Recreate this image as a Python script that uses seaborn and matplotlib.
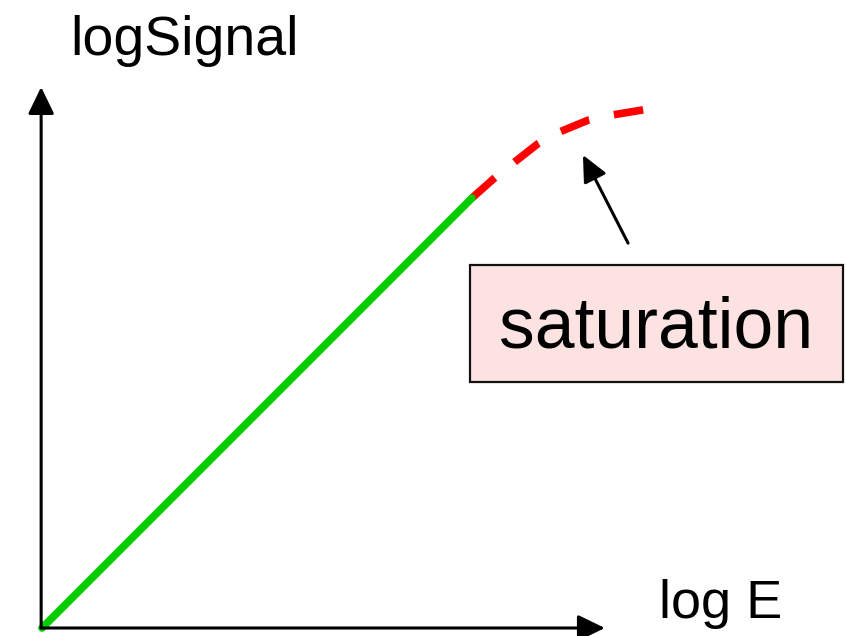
import numpy as np
import pandas as pd
import matplotlib.pyplot as plt
import seaborn as sns
from matplotlib.patches import Rectangle

# schematic response curve (arbitrary log units)
linear_logE = [0.0, 10.0]
linear_logS = [0.0, 10.0]

sat_logE = [10.0, 10.53, 10.93, 11.53, 12.02, 12.70, 13.26, 13.98]
sat_logS = [10.0, 10.47, 10.79, 11.26, 11.53, 11.81, 11.93, 12.05]

x_label = "log E"
y_label = "logSignal"
note = "saturation"

sns.set_style("white")
plt.rcParams['font.family'] = ['Liberation Sans', 'DejaVu Sans']
plt.rcParams['text.color'] = 'black'

fig = plt.figure(figsize=(8.46, 6.36), dpi=100)
ax = fig.add_axes([0, 0, 1, 1])
ax.set_xlim(-42 / 43, 804 / 43)
ax.set_ylim(-8 / 43, 628 / 43)
ax.axis("off")

lin = pd.DataFrame({"logE": linear_logE, "logS": linear_logS})
sat = pd.DataFrame({"logE": sat_logE, "logS": sat_logS})

sns.lineplot(data=lin, x="logE", y="logS", color="#00cc00", sort=False, ax=ax, zorder=3)
sns.lineplot(data=sat, x="logE", y="logS", color="#ff0000", sort=False, ax=ax, zorder=2)
green, red = ax.lines[0], ax.lines[1]
green.set_linewidth(5.5)
red.set_linewidth(5.5)
red.set_dashes((4.0, 3.3))
red.set_dash_capstyle("butt")

# axes drawn as arrows
head = dict(arrowstyle="-|>,head_length=1.65,head_width=0.8", lw=2.2, color="black",
            mutation_scale=10, shrinkA=0, shrinkB=0)
ax.annotate("", xy=(-0.02, 12.58), xytext=(-0.02, 0), arrowprops=head)
ax.annotate("", xy=(13.09, 0), xytext=(-0.02, 0), arrowprops=head)

ax.text(0.65, 13.33, y_label, fontsize=40, va="baseline", ha="left", color="black")
ax.text(14.35, 0.233, x_label, fontsize=39, va="baseline", ha="left", color="black")

# note box + pointer
ax.add_patch(Rectangle((9.95, 5.72), 8.67, 2.72, facecolor="#fde2e2",
                       edgecolor="#111111", lw=1.6, zorder=1))
ax.text(14.29, 6.53, note, fontsize=51.5, va="baseline", ha="center", color="black", zorder=4)
ax.annotate("", xy=(12.58, 11.0), xytext=(13.63, 8.95),
            arrowprops=dict(arrowstyle="-|>,head_length=1.6,head_width=0.75", lw=2.2,
                            color="black", mutation_scale=10, shrinkA=0, shrinkB=0))

fig.savefig("out.png", dpi=100)
